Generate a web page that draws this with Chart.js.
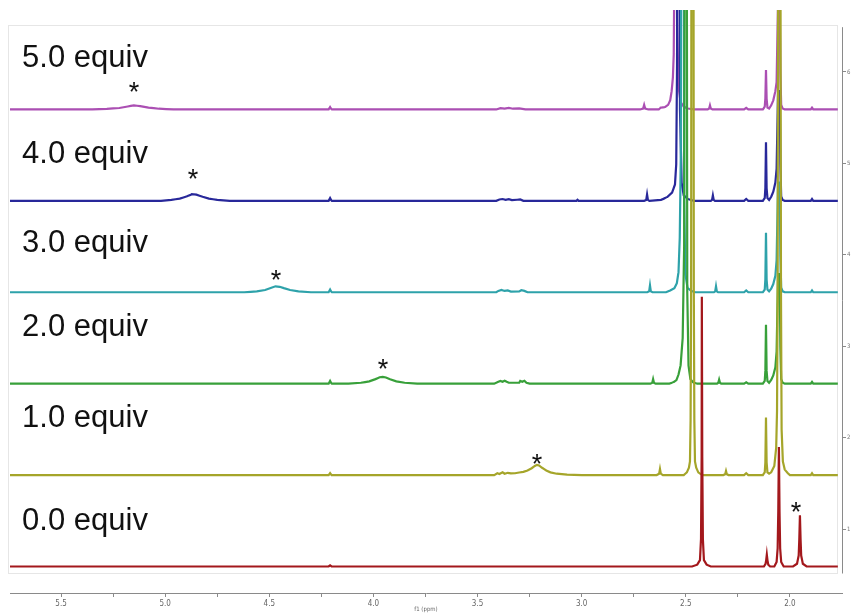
<!DOCTYPE html>
<html>
<head>
<meta charset="utf-8">
<script src="https://cdn.jsdelivr.net/npm/chart.js@4/dist/chart.umd.min.js"></script>
<style>
  html, body { margin: 0; padding: 0; background: #fff; }
  #wrap { width: 852px; height: 613px; position: relative; }
</style>
</head>
<body>
<div id="wrap"><canvas id="nmr"></canvas></div>
<script>
// Stacked 1H NMR titration, one trace per added equivalent.
// Each trace is a list of [ppm, intensity] points above its own baseline.
const equivLabels = ["0.0 equiv", "1.0 equiv", "2.0 equiv", "3.0 equiv", "4.0 equiv", "5.0 equiv"]
const offsets = [0.59, 1.59, 2.59, 3.59, 4.59, 5.59]
const ppmTicks = [5.5, 5.25, 5.0, 4.75, 4.5, 4.25, 4.0, 3.75, 3.5, 3.25, 3.0, 2.75, 2.5, 2.25, 2.0]
const sideTicks = [1, 2, 3, 4, 5, 6]

const spec0 = [
  [5.745, 0], [4.215, 0], [4.208, 0.012], [4.201, 0],
  [2.47, 0], [2.445, 0.02], [2.432, 0.07], [2.427, 0.3], [2.424, 1.2], [2.423, 2.95], [2.421, 1.2], [2.418, 0.3], [2.413, 0.07], [2.40, 0.02], [2.38, 0],
  [2.125, 0], [2.117, 0.03], [2.114, 0.07], [2.111, 0.13], [2.108, 0.07], [2.104, 0.02], [2.095, 0],
  [2.075, 0], [2.064, 0.05], [2.059, 0.2], [2.056, 0.6], [2.053, 1.307], [2.05, 0.6], [2.047, 0.2], [2.042, 0.05], [2.03, 0],
  [1.985, 0], [1.966, 0.03], [1.958, 0.12], [1.955, 0.3], [1.952, 0.56], [1.949, 0.3], [1.946, 0.12], [1.938, 0.03], [1.92, 0],
  [1.77, 0]
]
const spec1 = [
  [5.745, 0], [4.215, 0], [4.208, 0.022], [4.201, 0],
  [3.42, 0], [3.405, 0.02], [3.395, 0.012], [3.38, 0.03], [3.37, 0.015], [3.355, 0.025], [3.34, 0.018], [3.32, 0.02], [3.30, 0.028], [3.28, 0.035], [3.26, 0.05], [3.24, 0.075], [3.225, 0.1], [3.215, 0.112], [3.205, 0.105], [3.19, 0.08], [3.17, 0.05], [3.15, 0.03], [3.12, 0.015], [3.07, 0.005], [3.0, 0],
  [2.64, 0], [2.628, 0.015], [2.624, 0.066], [2.620, 0.015], [2.61, 0],
  [2.51, 0], [2.495, 0.03], [2.485, 0.08], [2.48, 0.15], [2.477, 0.6], [2.4745, 2.0], [2.4725, 7.5], [2.4635, 7.5], [2.4615, 2.0], [2.459, 0.6], [2.456, 0.15], [2.45, 0.08], [2.44, 0.03], [2.42, 0],
  [2.32, 0], [2.311, 0.01], [2.307, 0.045], [2.303, 0.01], [2.295, 0],
  [2.22, 0], [2.21, 0.02], [2.20, 0],
  [2.13, 0], [2.121, 0.03], [2.118, 0.14], [2.115, 0.63], [2.112, 0.14], [2.108, 0.03], [2.10, 0.015],
  [2.09, 0.03], [2.075, 0.1], [2.066, 0.3], [2.062, 0.7], [2.059, 2.0], [2.0555, 7.5], [2.0465, 7.5], [2.043, 2.0], [2.04, 0.5], [2.034, 0.15], [2.025, 0.06], [2.01, 0.02], [2.0, 0],
  [1.90, 0], [1.894, 0.02], [1.888, 0],
  [1.77, 0]
]
const spec2 = [
  [5.745, 0], [4.215, 0], [4.208, 0.03], [4.201, 0],
  [4.12, 0], [4.06, 0.01], [4.02, 0.025], [3.99, 0.05], [3.97, 0.07], [3.955, 0.075], [3.94, 0.068], [3.92, 0.048], [3.89, 0.025], [3.85, 0.01], [3.79, 0],
  [3.42, 0], [3.40, 0.02], [3.39, 0.03], [3.38, 0.02], [3.37, 0.032], [3.36, 0.02], [3.35, 0.01], [3.30, 0.01], [3.295, 0.03], [3.285, 0.02], [3.275, 0.032], [3.265, 0.01], [3.25, 0],
  [2.67, 0], [2.661, 0.01], [2.657, 0.05], [2.653, 0.01], [2.645, 0],
  [2.58, 0], [2.56, 0.015], [2.545, 0.04], [2.535, 0.1], [2.525, 0.2], [2.515, 0.5], [2.508, 1.5], [2.5035, 7.5], [2.4965, 7.5], [2.493, 1.0], [2.487, 0.2], [2.478, 0.05], [2.465, 0.015], [2.445, 0],
  [2.35, 0], [2.344, 0.01], [2.34, 0.045], [2.336, 0.01], [2.33, 0],
  [2.22, 0], [2.21, 0.015], [2.20, 0],
  [2.13, 0], [2.121, 0.03], [2.118, 0.14], [2.115, 0.645], [2.112, 0.14], [2.108, 0.03], [2.10, 0.01],
  [2.09, 0.04], [2.08, 0.09], [2.07, 0.18], [2.064, 0.35], [2.057, 1.2], [2.049, 1.2], [2.046, 0.4], [2.042, 0.05], [2.035, 0.01], [2.025, 0],
  [1.90, 0], [1.894, 0.02], [1.888, 0],
  [1.77, 0]
]
const spec3 = [
  [5.745, 0], [4.62, 0], [4.56, 0.01], [4.52, 0.025], [4.49, 0.05], [4.47, 0.065], [4.45, 0.06], [4.43, 0.045], [4.40, 0.025], [4.36, 0.01], [4.30, 0],
  [4.215, 0], [4.208, 0.03], [4.201, 0],
  [3.41, 0], [3.40, 0.015], [3.385, 0.025], [3.37, 0.015], [3.355, 0.02], [3.34, 0.008], [3.30, 0.01], [3.29, 0.022], [3.275, 0.015], [3.26, 0],
  [2.685, 0], [2.676, 0.01], [2.672, 0.075], [2.668, 0.01], [2.66, 0],
  [2.595, 0], [2.575, 0.02], [2.555, 0.045], [2.543, 0.1], [2.535, 0.22], [2.529, 0.6], [2.524, 1.5], [2.5195, 7.5], [2.5115, 7.5], [2.508, 1.0], [2.502, 0.2], [2.492, 0.05], [2.475, 0.015], [2.455, 0],
  [2.365, 0], [2.359, 0.01], [2.355, 0.065], [2.351, 0.01], [2.345, 0],
  [2.22, 0], [2.21, 0.02], [2.20, 0],
  [2.13, 0], [2.121, 0.03], [2.118, 0.14], [2.115, 0.65], [2.112, 0.14], [2.108, 0.03], [2.10, 0.01],
  [2.09, 0.04], [2.08, 0.09], [2.07, 0.18], [2.064, 0.35], [2.057, 1.2], [2.049, 1.2], [2.046, 0.4], [2.042, 0.05], [2.035, 0.01], [2.025, 0],
  [1.90, 0], [1.894, 0.02], [1.888, 0],
  [1.77, 0]
]
const spec4 = [
  [5.745, 0], [5.02, 0], [4.97, 0.01], [4.93, 0.025], [4.895, 0.05], [4.87, 0.073], [4.85, 0.068], [4.82, 0.045], [4.79, 0.025], [4.75, 0.01], [4.69, 0],
  [4.215, 0], [4.208, 0.03], [4.201, 0],
  [3.41, 0], [3.395, 0.015], [3.38, 0.02], [3.365, 0.012], [3.35, 0.018], [3.335, 0.008], [3.31, 0.012], [3.295, 0.015], [3.28, 0],
  [3.025, 0], [3.02, 0.012], [3.015, 0],
  [2.70, 0], [2.69, 0.01], [2.686, 0.07], [2.682, 0.01], [2.675, 0],
  [2.62, 0.01], [2.59, 0.04], [2.566, 0.09], [2.552, 0.18], [2.546, 0.4], [2.542, 1.5], [2.5385, 7.5], [2.5315, 7.5], [2.528, 1.0], [2.52, 0.2], [2.51, 0.06], [2.49, 0.02], [2.46, 0],
  [2.38, 0], [2.374, 0.01], [2.37, 0.06], [2.366, 0.01], [2.36, 0],
  [2.22, 0], [2.21, 0.02], [2.20, 0],
  [2.13, 0], [2.121, 0.03], [2.118, 0.14], [2.115, 0.64], [2.112, 0.14], [2.108, 0.03], [2.10, 0.01],
  [2.09, 0.045], [2.08, 0.1], [2.07, 0.2], [2.064, 0.35], [2.057, 1.2], [2.049, 1.2], [2.046, 0.4], [2.042, 0.05], [2.035, 0.01], [2.025, 0],
  [1.90, 0], [1.894, 0.02], [1.888, 0],
  [1.77, 0]
]
const spec5 = [
  [5.745, 0], [5.35, 0], [5.28, 0.006], [5.22, 0.016], [5.18, 0.032], [5.15, 0.045], [5.12, 0.036], [5.08, 0.02], [5.03, 0.008], [4.96, 0],
  [4.215, 0], [4.208, 0.025], [4.201, 0],
  [3.41, 0], [3.39, 0.015], [3.37, 0.01], [3.35, 0.017], [3.33, 0.008], [3.30, 0.012], [3.27, 0],
  [2.72, 0], [2.705, 0.01], [2.70, 0.05], [2.695, 0.01], [2.68, 0],
  [2.63, 0], [2.62, 0.02], [2.60, 0.025], [2.585, 0.05], [2.575, 0.1], [2.568, 0.2], [2.562, 0.35], [2.558, 0.6], [2.555, 1.5], [2.552, 7.5], [2.545, 7.5], [2.542, 1.0], [2.535, 0.25], [2.525, 0.08], [2.51, 0.03], [2.49, 0.01], [2.46, 0],
  [2.395, 0], [2.388, 0.01], [2.384, 0.045], [2.38, 0.01], [2.372, 0],
  [2.22, 0], [2.21, 0.018], [2.20, 0],
  [2.13, 0], [2.121, 0.03], [2.118, 0.12], [2.115, 0.43], [2.112, 0.12], [2.108, 0.02], [2.10, 0.01],
  [2.09, 0.045], [2.08, 0.1], [2.07, 0.2], [2.064, 0.3], [2.057, 1.2], [2.049, 1.2], [2.046, 0.4], [2.042, 0.05], [2.035, 0.01], [2.025, 0],
  [1.90, 0], [1.894, 0.02], [1.888, 0],
  [1.77, 0]
]
const spectra = [spec0, spec1, spec2, spec3, spec4, spec5]

// asterisks over the shifting signal, [ppm, level]
const starMarks = [[1.971, 1.252], [3.215, 1.780], [3.954, 2.819], [4.468, 3.790], [4.866, 4.898], [5.149, 5.852]]

const traceColors = ["#a3181c", "#a5a52a", "#38a03a", "#2ea2aa", "#28289a", "#ab4fb3"]
const labelFont = "31px 'Liberation Sans', Arial, Helvetica, sans-serif"

// frame, side axis line, sample labels and asterisks
const decorations = {
  id: "decorations",
  beforeDatasetsDraw(chart) {
    const { ctx, scales: { x, y }, chartArea } = chart
    ctx.save()
    ctx.strokeStyle = "#e6e6e6"
    ctx.lineWidth = 1
    const l = Math.round(x.getPixelForValue(5.755)) + 0.5
    const r = Math.round(x.getPixelForValue(1.774)) + 0.5
    const t = Math.round(y.getPixelForValue(6.514)) + 0.5
    const b = Math.round(y.getPixelForValue(0.519)) + 0.5
    ctx.strokeRect(l, t, r - l, b - t)
    ctx.strokeStyle = "#8a8a8a"
    ctx.beginPath()
    ctx.moveTo(chartArea.right + 0.5, y.getPixelForValue(6.49))
    ctx.lineTo(chartArea.right + 0.5, b)
    ctx.stroke()
    ctx.restore()
  },
  afterDatasetsDraw(chart) {
    const { ctx, scales: { x, y } } = chart
    const labelLevels = [0.989, 2.116, 3.112, 4.031, 5.004, 6.055]
    ctx.save()
    ctx.fillStyle = "#111"
    ctx.font = labelFont
    ctx.textAlign = "left"
    ctx.textBaseline = "alphabetic"
    equivLabels.forEach((txt, i) => {
      ctx.fillText(txt, x.getPixelForValue(5.687), y.getPixelForValue(labelLevels[i]))
    })
    ctx.font = "27px 'Liberation Sans', Arial, sans-serif"
    ctx.textAlign = "center"
    starMarks.forEach(([ppm, lvl]) => {
      ctx.fillText("*", x.getPixelForValue(ppm), y.getPixelForValue(lvl) + 27 * 0.57)
    })
    ctx.restore()
  }
}

new Chart(document.getElementById("nmr"), {
  type: "line",
  data: {
    datasets: spectra.map((spec, i) => ({
      label: equivLabels[i],
      data: spec.map(([ppm, h]) => ({ x: ppm, y: h + offsets[i] })),
      borderColor: traceColors[i],
      borderWidth: 2.2,
      pointRadius: 0,
      // a tiny tension keeps every point in the path (no pixel-column merging)
      tension: 0.000001,
      fill: false
    }))
  },
  options: {
    responsive: true,
    maintainAspectRatio: false,
    animation: false,
    layout: { padding: { top: 10, left: 10, right: 0, bottom: 0 } },
    plugins: {
      legend: { display: false },
      tooltip: { enabled: false }
    },
    scales: {
      x: {
        type: "linear",
        reverse: true,
        min: 1.75,
        max: 5.745,
        afterBuildTicks: s => { s.ticks = ppmTicks.map(v => ({ value: v })) },
        afterFit: s => { s.height = 20 },
        border: { display: true, color: "#8a8a8a", width: 1 },
        grid: { drawOnChartArea: false, drawTicks: true, tickLength: 4, color: "#8a8a8a" },
        ticks: {
          padding: 2,
          autoSkip: false,
          maxRotation: 0,
          color: "#666",
          font: { size: 8, family: "'Liberation Sans Narrow', 'DejaVu Sans Condensed', sans-serif" },
          callback: v => (Math.abs(v * 2 - Math.round(v * 2)) < 1e-6 ? v.toFixed(1) : "")
        },
        title: {
          display: true,
          text: "f1 (ppm)",
          color: "#666",
          padding: 0,
          font: { size: 6, family: "'Liberation Sans Narrow', 'DejaVu Sans Condensed', sans-serif" }
        }
      },
      y: {
        type: "linear",
        position: "right",
        min: 0.3,
        max: 6.678,
        afterBuildTicks: s => { s.ticks = sideTicks.map(v => ({ value: v })) },
        afterFit: s => { s.width = 10 },
        border: { display: false },
        grid: { drawOnChartArea: false, drawTicks: true, tickLength: 4, color: "#8a8a8a" },
        ticks: {
          padding: 1,
          color: "#777",
          font: { size: 6, family: "'Liberation Sans Narrow', 'DejaVu Sans Condensed', sans-serif" },
          callback: v => String(v)
        }
      }
    }
  },
  plugins: [decorations]
})
</script>
</body>
</html>
